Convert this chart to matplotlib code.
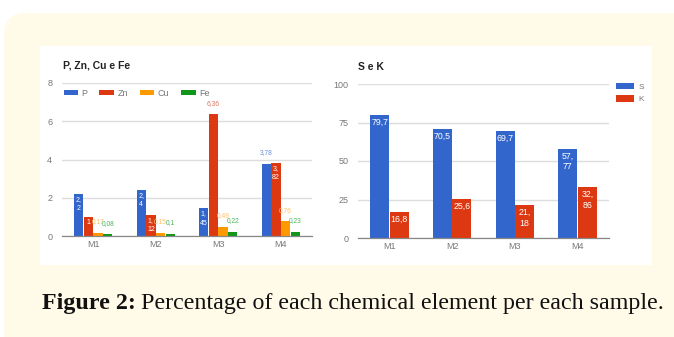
import matplotlib.pyplot as plt
import numpy as np
from matplotlib.patches import FancyBboxPatch, Rectangle
from matplotlib.transforms import IdentityTransform

# Amostras e teores (%) de cada elemento
amostras = ["M1", "M2", "M3", "M4"]
p = [2.2, 2.4, 1.45, 3.78]
zn = [1, 1.12, 6.36, 3.82]
cu = [0.17, 0.15, 0.49, 0.76]
fe = [0.08, 0.1, 0.22, 0.23]
s = [79.7, 70.5, 69.7, 57.77]
k = [16.8, 25.6, 21.18, 32.86]

W, H = 674, 337
azul, verm, lar, verde = "#3366cc", "#dc3912", "#ff9900", "#109618"
cinza = "#777777"
plt.rcParams['font.family'] = ['Liberation Sans', 'DejaVu Sans']


def fr(x0, y0, x1, y1):
    # caixa em pixels (origem no canto superior esquerdo) -> fração da figura
    return [x0 / W, 1 - y1 / H, (x1 - x0) / W, (y1 - y0) / H]


def rotulo(v):
    return f"{v:g}".replace(".", ",")


def quebra(t):
    return t.replace(",", ",\n") if "," in t else t


fig = plt.figure(figsize=(W / 100, H / 100), dpi=100)
fig.patch.set_facecolor("white")

# moldura creme e área branca
fig.patches.append(FancyBboxPatch((4, 0 - 30), 700, H - 13 + 30,
                                  boxstyle="round,pad=0,rounding_size=22",
                                  transform=IdentityTransform(),
                                  facecolor="#fffbe8", edgecolor="none", zorder=-2))
fig.patches.append(Rectangle((40, H - 265), 612, 265 - 46, transform=IdentityTransform(),
                             facecolor="white", edgecolor="none", zorder=-1))


def estilo(ax, ymax, passo):
    ax.set_facecolor("none")
    ax.set_ylim(0, ymax)
    ax.set_xlim(-0.5, 3.5)
    ax.set_yticks(np.arange(0, ymax + 1e-9, passo))
    ax.set_xticks(range(4))
    ax.set_xticklabels(amostras)
    ax.grid(axis="y", color="#dddddd", linewidth=1.0)
    ax.set_axisbelow(True)
    for lado in ["top", "right", "left"]:
        ax.spines[lado].set_visible(False)
    ax.spines["bottom"].set_color("#888888")
    ax.spines["bottom"].set_linewidth(0.9)
    ax.tick_params(length=0, labelsize=6.5, colors=cinza)
    ax.tick_params(axis="y", pad=7)
    ax.tick_params(axis="x", pad=3)


# ---- P, Zn, Cu e Fe ----
ax1 = fig.add_axes(fr(62, 83, 312, 236))
estilo(ax1, 8, 2)
x = np.arange(4)
largura = 0.15
series = [("P", p, azul, "#6b8fdb"), ("Zn", zn, verm, "#e2745c"),
          ("Cu", cu, lar, "#ffc266"), ("Fe", fe, verde, "#4db35a")]
fora = {("P", 3), ("Zn", 2)}
for i, (nome, vals, cor, cor_txt) in enumerate(series):
    pos = x + (i - 1.5) * 0.155
    ax1.bar(pos, vals, largura, color=cor, label=nome, zorder=2)
    for j, v in enumerate(vals):
        t = rotulo(v)
        if nome in ("Cu", "Fe") or (nome, j) in fora:
            ax1.annotate(t, (pos[j], v), xytext=(0, 8), textcoords="offset points",
                         ha="center", va="center", fontsize=4.8, color=cor_txt, zorder=3)
        else:
            ax1.annotate(quebra(t), (pos[j], v), xytext=(0, -1.5), textcoords="offset points",
                         ha="center", va="top", fontsize=5, color="white",
                         linespacing=1.45, zorder=3)

fig.text(63, H - 66, "P, Zn, Cu e Fe", transform=IdentityTransform(), fontsize=7.5,
         fontweight="bold", color="#222222", va="center")
leg = ax1.legend(ncol=4, loc="center left", bbox_to_anchor=(60 / W, 1 - 93 / H),
                 bbox_transform=fig.transFigure, frameon=False, fontsize=6.5,
                 handlelength=1.6, handleheight=0.55, handletextpad=0.4,
                 columnspacing=1.3, borderaxespad=0)
for txt in leg.get_texts():
    txt.set_color(cinza)

# ---- S e K ----
ax2 = fig.add_axes(fr(358, 84, 609, 238))
estilo(ax2, 100, 25)
for i, (nome, vals, cor) in enumerate([("S", s, azul), ("K", k, verm)]):
    pos = x + (i - 0.5) * 0.31
    ax2.bar(pos, vals, 0.3, color=cor, label=nome, zorder=2)
    for j, v in enumerate(vals):
        t = rotulo(v)
        if len(t) > 4:
            t = quebra(t)
        ax2.annotate(t, (pos[j], v), xytext=(0, -2), textcoords="offset points",
                     ha="center", va="top", fontsize=6.3, color="white",
                     linespacing=1.2, zorder=3)

fig.text(358, H - 67, "S e K", transform=IdentityTransform(), fontsize=7.5,
         fontweight="bold", color="#222222", va="center")
leg2 = ax2.legend(loc="upper left", bbox_to_anchor=(616 / W, 1 - 83 / H),
                  bbox_transform=fig.transFigure, frameon=False, fontsize=6,
                  handlelength=2.2, handleheight=0.8, handletextpad=0.5,
                  labelspacing=0.5, borderaxespad=0, borderpad=0)
for txt in leg2.get_texts():
    txt.set_color(cinza)

# legenda da figura
t1 = fig.text(42, H - 303, "Figure 2:", transform=IdentityTransform(), fontsize=17.3,
              fontweight="bold", family="Liberation Serif", va="center", color="#111111")
fig.canvas.draw()
bb = t1.get_window_extent()
fig.text(bb.x1 + 5, H - 303, "Percentage of each chemical element per each sample.",
         transform=IdentityTransform(), fontsize=17.3, family="Liberation Serif",
         va="center", color="#111111")

fig.savefig("out.png", dpi=100)
